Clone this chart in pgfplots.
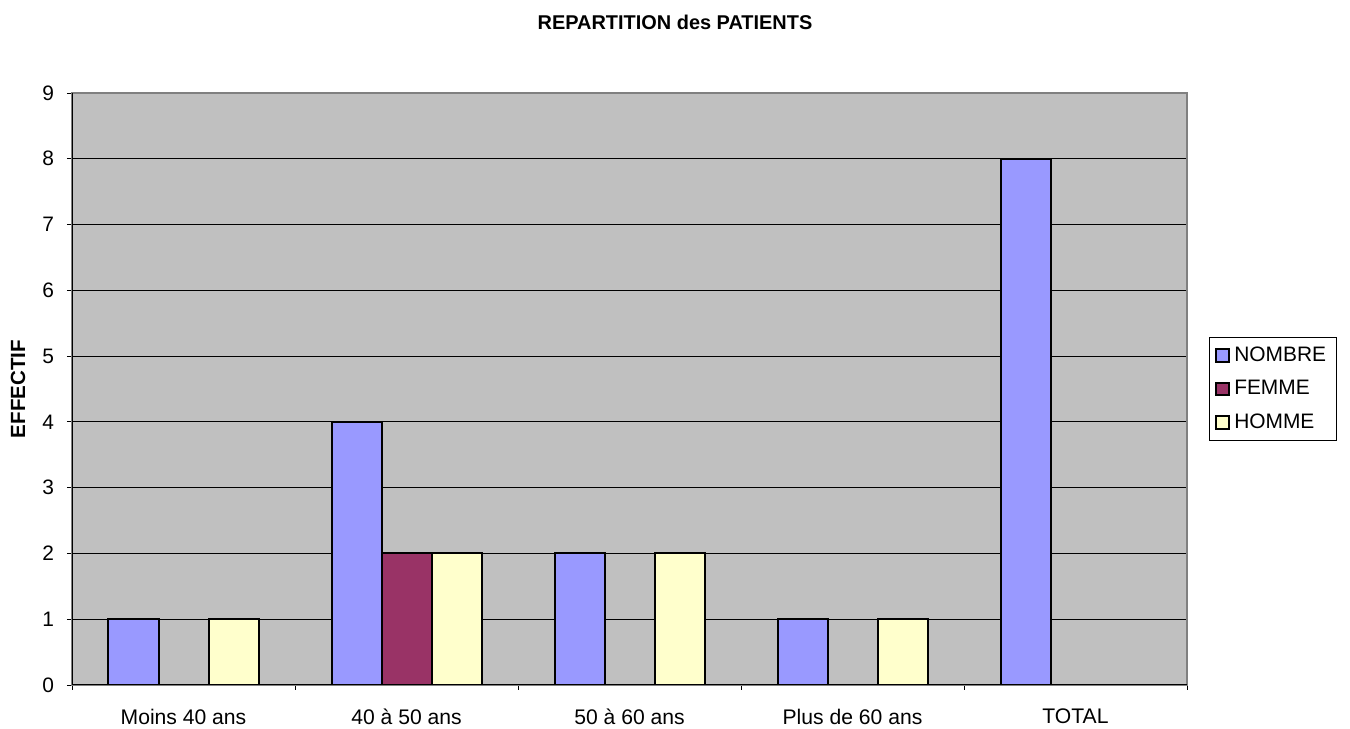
\documentclass[border=0pt]{standalone}
\usepackage{pgfplots}
\pgfplotsset{compat=1.18}
\usepackage{fontspec}
\setmainfont{Liberation Sans}

\definecolor{nombre}{HTML}{9999FF}
\definecolor{femme}{HTML}{993366}
\definecolor{homme}{HTML}{FFFFCC}
\definecolor{plotbg}{HTML}{C0C0C0}
\definecolor{framegray}{HTML}{808080}

\begin{document}
\begin{tikzpicture}
\path[use as bounding box] (0,0) rectangle (675bp,364.5bp);
\begin{axis}[
  at={(36bp,22bp)}, anchor=south west,
  width=557.5bp, height=296bp, scale only axis,
  xmin=-0.5, xmax=4.5, ymin=0, ymax=9,
  axis background/.style={fill=plotbg},
  axis line style={draw=framegray, line width=1bp},
  ybar=0pt, bar width=25bp,
  xtick={0,1,2,3,4},
  xticklabels={Moins 40 ans, 40 à 50 ans, 50 à 60 ans, Plus de 60 ans, TOTAL},
  minor xtick={-0.5,0.5,1.5,2.5,3.5,4.5},
  ytick={0,1,...,9},
  ymajorgrids,
  grid style={black, line width=0.5bp},
  major x tick style={draw=none},
  minor x tick style={black, line width=0.5bp},
  major y tick style={black, line width=0.5bp},
  tick align=outside,
  major tick length=2.5bp, minor tick length=2.5bp,
  xtick pos=bottom, ytick pos=left,
  /pgf/number format/assume math mode=true,
  xticklabel style={font=\fontsize{10.6}{12}\selectfont, yshift=-6bp},
  yticklabel style={font=\fontsize{10.5}{12}\selectfont, xshift=-3bp},
  ylabel={EFFECTIF},
  ylabel style={font=\fontsize{10.3}{12}\selectfont\bfseries, at={(rel axis cs:0,0.5)}, anchor=center, yshift=27bp},
  legend style={at={(1.0197,0.5)}, anchor=west, draw=black, line width=0.5bp,
    fill=white, font=\fontsize{10.5}{12}\selectfont, row sep=4bp,
    inner xsep=3bp, inner ysep=2.5bp},
  legend cell align=left,
  legend image code/.code={\draw[#1, line width=1bp] (0bp,-3.1bp) rectangle (6.4bp,3.1bp);},
  every axis plot/.append style={draw=black, line width=1bp},
]
\addplot[fill=nombre] coordinates {(0,1) (1,4) (2,2) (3,1) (4,8)};
\addplot[fill=femme] coordinates {(1,2)};
\addplot[fill=homme] coordinates {(0,1) (1,2) (2,2) (3,1)};
\legend{NOMBRE, FEMME, HOMME}
\draw[black, line width=0.6bp] (rel axis cs:0,1) -- (rel axis cs:0,0) -- (rel axis cs:1,0);
\end{axis}
\node[font=\fontsize{10}{12}\selectfont\bfseries] at (337.5bp,353.5bp) {REPARTITION des PATIENTS};
\end{tikzpicture}
\end{document}
